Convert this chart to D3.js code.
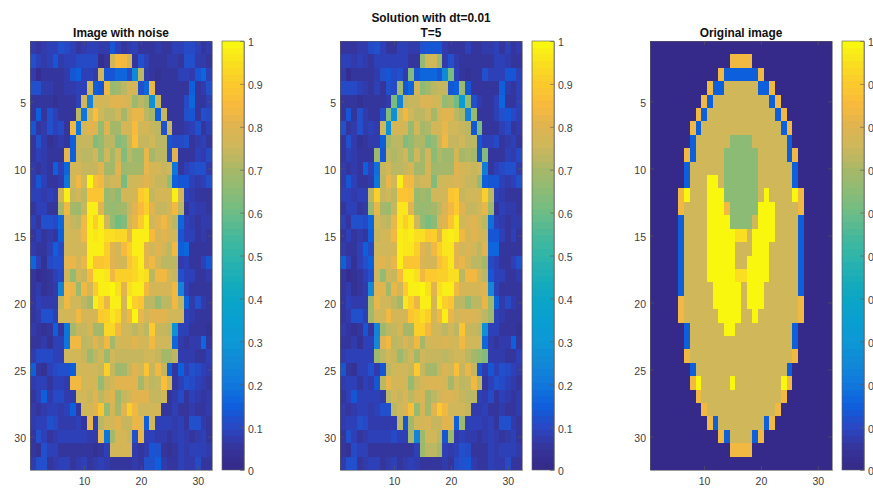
<!DOCTYPE html>
<html>
<head>
<meta charset="utf-8">
<title>Solution with dt=0.01</title>
<style>
body { margin: 0; background: #fff; }
text { font-family: "Liberation Sans", Arial, sans-serif; }
.tick text { font-size: 10.5px; fill: #404040; }
.tick line, .domain { stroke: #5a5a5a; stroke-width: 0.6px; }
.title { font-size: 11.9px; font-weight: bold; fill: #111; text-anchor: middle; }
</style>
<script src="https://cdnjs.cloudflare.com/ajax/libs/d3/7.8.5/d3.min.js"></script>
</head>
<body>
<svg id="chart" width="873" height="491">
  <defs><filter id="soft"><feGaussianBlur stdDeviation="0.45"></feGaussianBlur></filter></defs>
</svg>
<script>
// values are in hundredths
var noisy = [
[7,6,7,8,8,11,10,8,6,7,9,8,7,7,14,8,6,7,8,6,5,5,7,6,5,8,8,10,10,9,6,7],
[12,8,7,8,13,7,8,9,10,10,10,10,3,5,78,85,84,78,5,11,9,5,6,5,7,7,5,12,12,7,7,6],
[7,3,6,6,6,5,7,13,15,9,8,7,75,13,13,17,17,10,25,72,7,6,4,5,6,6,8,9,7,14,17,8],
[11,11,7,7,6,5,7,7,8,9,76,15,13,83,66,70,72,78,78,12,17,82,6,5,5,5,6,5,15,6,7,12],
[5,6,6,5,4,6,6,6,8,75,22,75,77,76,80,80,79,78,68,73,70,27,74,5,6,5,6,10,17,5,6,8],
[6,15,5,12,8,5,5,5,72,20,75,86,76,72,72,76,70,78,82,82,73,70,15,74,5,6,6,11,13,6,12,10],
[14,6,7,12,8,10,6,84,20,78,80,80,66,80,70,70,78,75,85,75,77,74,73,12,74,5,5,7,9,12,6,8],
[5,12,7,4,5,7,6,15,74,74,74,64,66,72,72,64,66,74,87,74,74,76,72,72,14,10,10,12,6,7,8,5],
[5,9,7,6,5,6,82,15,74,72,73,76,66,76,70,76,64,72,68,68,82,70,72,72,12,80,5,6,5,9,7,10],
[7,6,7,6,15,8,17,78,78,74,74,74,80,70,70,80,68,70,70,70,82,78,78,74,78,20,5,8,10,12,12,7],
[7,13,8,5,6,7,19,76,84,76,100,86,84,74,75,78,62,76,76,78,80,78,74,74,66,15,14,14,9,7,9,12],
[9,9,7,8,7,78,98,74,76,72,88,88,88,66,70,65,78,76,77,90,93,74,78,78,78,98,78,8,7,6,6,5],
[5,8,8,6,6,70,84,70,68,74,97,97,80,68,66,68,70,74,80,85,92,80,74,74,78,84,72,6,8,7,7,6],
[9,6,11,12,10,17,78,74,72,84,97,92,98,76,66,60,64,78,82,90,98,76,80,83,77,72,17,8,7,5,7,7],
[5,8,6,7,5,15,76,76,78,84,98,96,98,95,95,93,93,82,97,98,98,85,78,80,78,76,14,9,8,6,7,5],
[7,6,5,8,15,10,78,76,76,78,98,97,97,92,80,76,85,92,97,97,80,76,80,76,72,83,15,17,6,5,6,6],
[17,9,4,10,12,12,82,82,78,82,98,89,89,90,80,78,78,88,93,97,80,83,75,73,72,72,7,8,5,5,9,13],
[6,3,4,6,8,10,78,66,76,74,85,98,98,96,84,91,91,92,93,96,95,72,84,84,75,74,12,8,9,5,6,7],
[6,7,4,5,7,22,84,82,68,83,76,90,98,98,100,95,80,95,98,98,84,78,78,78,78,83,22,8,6,5,6,6],
[6,8,7,7,7,73,84,76,76,72,70,97,93,82,98,98,78,100,92,88,72,72,66,73,72,84,73,15,7,11,7,5],
[6,7,12,12,8,76,78,76,84,78,78,78,90,92,96,93,78,83,100,82,76,80,80,80,75,75,76,8,7,6,6,6],
[7,5,4,6,15,5,20,70,74,74,78,70,70,93,93,83,76,76,72,76,72,90,74,74,72,27,8,8,6,6,5,4],
[6,6,7,4,8,8,20,84,84,72,74,80,74,84,70,76,78,78,80,78,76,84,76,76,75,16,7,6,7,7,17,6],
[7,10,10,10,8,8,76,76,78,74,68,72,76,68,76,74,74,74,74,74,76,76,74,70,70,72,7,7,7,5,5,8],
[15,6,4,8,10,12,12,15,76,78,76,76,74,92,74,68,70,74,80,76,88,74,84,74,15,6,15,8,11,10,8,7],
[7,8,8,5,8,8,7,84,84,76,78,78,66,74,78,80,80,80,80,70,76,72,74,87,76,6,8,12,10,9,7,6],
[6,8,15,7,10,10,7,7,76,78,74,80,72,78,80,68,74,76,80,80,80,74,74,76,6,7,10,6,8,7,5,7],
[7,6,7,8,8,7,9,15,6,76,78,80,88,66,78,70,80,92,84,76,76,76,78,6,6,8,6,6,7,6,5,7],
[7,8,8,12,10,7,7,7,8,6,82,8,73,76,78,80,74,74,82,82,15,76,9,8,9,7,8,6,12,12,7,6],
[5,12,8,6,7,8,8,8,8,8,7,7,82,20,70,78,78,74,12,82,8,8,7,7,6,7,8,7,5,7,9,6],
[5,4,11,8,8,5,5,6,6,6,5,4,6,8,76,78,78,78,7,6,7,13,11,5,4,6,9,7,8,8,8,7],
[7,11,11,5,7,8,8,6,7,9,6,7,8,7,6,6,5,5,7,6,11,12,15,7,5,6,9,7,7,10,5,5]
];

var solution = [
[6,5,6,7,7,10,11,8,6,6,8,8,7,7,12,13,13,13,7,6,5,6,8,5,5,7,7,9,6,9,6,7],
[9,8,7,8,7,6,8,8,9,9,9,9,6,5,66,76,75,68,7,12,7,6,6,6,6,6,6,8,8,7,6,6],
[7,3,6,6,6,6,7,11,13,10,12,7,64,13,16,17,17,13,25,62,8,6,4,5,6,12,9,9,9,14,13,8],
[10,10,10,8,7,6,8,6,11,10,68,14,16,78,65,70,72,74,74,14,15,68,14,6,6,5,6,6,15,7,6,9],
[5,6,6,4,5,6,6,6,7,62,22,72,74,74,79,79,77,76,66,70,60,32,66,12,7,6,6,9,17,5,6,8],
[6,14,5,11,7,5,5,12,64,28,76,84,75,72,72,76,70,77,81,81,73,70,22,66,5,5,6,9,12,14,10,9],
[12,6,7,11,7,9,7,75,28,77,78,78,67,78,70,71,77,75,82,75,76,74,73,13,62,6,5,6,9,10,6,7],
[5,11,7,4,5,7,7,15,70,72,72,64,66,71,71,64,66,74,84,74,74,76,72,72,13,9,9,10,6,7,8,5],
[5,9,7,6,5,6,68,14,72,71,72,75,67,75,70,75,65,71,68,68,78,70,71,70,13,64,6,6,5,9,7,10],
[7,6,7,6,15,8,18,74,76,73,73,74,78,70,70,78,68,70,70,70,80,77,76,74,76,21,6,8,10,12,12,7],
[7,13,8,5,6,7,20,73,82,76,98,85,83,74,75,77,64,76,75,77,79,77,74,74,67,15,13,13,9,7,9,11],
[8,9,7,8,8,72,92,74,75,72,88,88,87,67,70,66,76,75,76,88,90,74,76,76,77,92,72,8,7,6,6,5],
[5,8,8,6,7,66,82,70,68,74,96,96,80,68,67,68,70,73,79,84,90,80,74,74,76,82,68,6,8,7,7,6],
[9,6,11,12,10,17,76,74,72,82,96,92,96,76,66,62,65,77,80,88,96,76,79,81,76,73,18,8,7,5,7,7],
[5,8,6,7,5,15,74,76,77,83,97,96,97,95,95,90,92,81,96,97,96,84,78,80,78,76,14,14,8,6,8,5],
[7,6,5,8,15,10,76,76,76,78,97,96,96,91,80,76,84,91,96,96,80,76,79,76,73,80,16,16,6,5,6,6],
[15,9,4,9,12,15,79,80,78,82,97,88,88,89,79,78,78,87,92,96,80,82,75,73,72,70,10,8,5,5,9,12],
[6,3,4,6,8,12,76,67,75,74,85,97,97,95,83,90,90,91,92,95,94,72,83,83,75,73,14,8,9,5,6,7],
[6,7,4,5,7,24,81,81,69,82,76,90,97,97,99,94,80,94,97,97,83,77,77,77,77,80,24,8,6,5,6,6],
[6,8,7,7,7,68,82,75,75,72,70,96,92,82,97,97,78,98,91,88,73,72,67,73,72,82,68,15,7,10,7,5],
[6,7,11,11,8,70,76,75,83,78,78,78,89,91,95,92,78,83,98,82,76,79,79,79,75,72,68,8,7,6,6,6],
[7,5,4,6,13,5,22,68,73,74,77,70,70,92,92,83,76,76,72,76,72,88,74,74,72,28,8,8,6,6,5,4],
[6,6,7,4,8,8,24,80,83,72,74,79,74,83,70,76,77,77,79,77,76,83,76,76,75,16,7,6,7,7,15,6],
[7,9,9,9,8,8,68,72,76,74,68,72,76,69,75,74,74,74,73,74,75,75,73,69,66,64,7,7,7,6,6,8],
[13,6,4,8,9,12,7,14,72,76,76,76,74,90,74,69,70,74,79,76,87,74,82,74,14,7,14,8,11,10,8,7],
[7,8,8,5,8,7,13,72,82,76,77,77,67,74,78,79,79,79,78,70,76,72,74,84,72,6,8,11,10,9,7,6],
[6,8,13,8,9,9,8,7,72,76,74,79,72,77,79,69,73,75,79,79,78,74,73,72,8,7,10,6,8,7,5,7],
[7,6,7,8,8,7,9,12,12,72,76,79,87,67,77,70,80,90,84,75,75,75,74,7,7,8,6,6,7,6,5,7],
[7,8,8,11,10,7,7,7,7,7,72,14,70,75,77,79,74,74,80,80,15,68,8,8,9,7,8,6,11,11,7,6],
[5,11,8,6,7,8,8,8,8,10,9,8,70,22,68,76,76,72,14,68,7,8,7,7,6,7,8,7,5,7,8,6],
[5,4,10,8,8,5,5,6,6,6,6,5,6,8,68,72,72,70,8,7,8,12,10,5,5,6,9,7,8,8,8,7],
[7,11,11,5,7,8,8,6,7,9,6,7,8,7,6,6,5,5,7,6,10,12,14,7,5,6,9,7,7,10,5,5]
];

// original image has only a few grey levels, one letter per cell
var originalLevels = { ".": 0, B: 15, G: 65, T: 76, O: 83, D: 95, Y: 100 };
var originalRows = [
"................................",
"..............OOOO..............",
"............OBBBBBBO............",
"..........OBBTTTTTTBBO..........",
".........OBTTTTTTTTTTBO.........",
"........OBTTTTTTTTTTTTBO........",
".......OBTTTTTTTTTTTTTTBO.......",
".......BTTTTTTGGGGTTTTTTB.......",
"......OBTTTTTGGGGGGTTTTTBO......",
"......BTTTTTTGGGGGGTTTTTTB......",
"......BTTTYYTGGGGGGTTTTTTB......",
".....OYTTTYYYGGGGGGTYTTTTYO.....",
".....OTTTTYYYOGGGGGYYYTTTTO.....",
".....BTTTTYYYYGGGGTYYYTTTTB.....",
".....BTTTTYYYYYDDTYYYYTTTTB.....",
".....BTTTTYYYYYTTTYYYTTTTTB.....",
".....BTTTTYYYYYTTYYYYTTTTTB.....",
".....BTTTTYYYYYDDYYYYTTTTTB.....",
".....BTTTTTYYYYYTYYYTTTTTTB.....",
".....OTTTTTYYYYYTYYYTTTTTTO.....",
".....OTTTTTTYYYYTTYTTTTTTTO.....",
"......BTTTTTTYYTTTTTTTTTTB......",
"......BTTTTTTTTTTTTTTTTTTB......",
"......OTTTTTTTTTTTTTTTTTTO......",
".......BTTTTTTTTTTTTTTTTB.......",
".......OYTTTTTYTTTTTTTTYO.......",
"........OTTTTTTTTTTTTTTO........",
".........OTTTTTTTTTTTTO.........",
"..........OBTTTTTTTTBO..........",
"............OBTTTTBO............",
"..............OOOO..............",
"................................"
];
var original = originalRows.map(function(r) {
  return r.split("").map(function(c) { return originalLevels[c]; });
});

var xTicks = [10, 20, 30];
var yTicks = [5, 10, 15, 20, 25, 30];
var barTicks = [0, 0.1, 0.2, 0.3, 0.4, 0.5, 0.6, 0.7, 0.8, 0.9, 1];

// colormap stops
var cmapStops = [0, 0.05, 0.1, 0.15, 0.2, 0.25, 0.3, 0.35, 0.4, 0.45, 0.5, 0.55, 0.6, 0.65, 0.7, 0.75, 0.8, 0.85, 0.9, 0.95, 1];
var cmapColors = ["#352a87", "#36339a", "#2947c4", "#0f5fdc", "#1178dc", "#1289d6", "#0c98d6", "#099fd0", "#0ba5c6", "#1badb8", "#30b5a8", "#4ab999", "#6ebc85", "#8dbb75", "#a8b868", "#ccb75c", "#dfb452", "#f8b93c", "#fcc92d", "#f9e01f", "#f9fb0e"];
var cmap = d3.scaleLinear().domain(cmapStops).range(cmapColors);
function stepColor(v) {
  var i = Math.min(63, Math.floor(v * 64));
  return cmap((i + 0.5) / 64);
}

var panels = [
  { left: 30, data: noisy, title: ["Image with noise"] },
  { left: 340, data: solution, title: ["Solution with dt=0.01", "T=5"] },
  { left: 650, data: original, title: ["Original image"] }
];
var plotTop = 41, plotBottom = 470, plotW = 182, barGap = 10, barW = 22;

var svg = d3.select("#chart");

panels.forEach(function(p) {
  var x = d3.scaleLinear().domain([0.5, 32.5]).range([p.left, p.left + plotW]);
  var y = d3.scaleLinear().domain([0.5, 32.5]).range([plotTop, plotBottom]);
  var g = svg.append("g");
  var cells = g.append("g").attr("filter", "url(#soft)");

  p.data.forEach(function(row, r) {
    cells.append("g").selectAll("rect")
      .data(row)
      .enter().append("rect")
      .attr("shape-rendering", "crispEdges")
      .attr("x", function(d, c) { return x(c + 0.5); })
      .attr("width", function(d, c) { return x(c + 1.5) - x(c + 0.5); })
      .attr("y", y(r + 0.5))
      .attr("height", y(r + 1.5) - y(r + 0.5))
      .attr("fill", function(d) { return stepColor(d / 100); });
  });

  // MATLAB box: ticks point inward on all four sides
  g.append("g").attr("transform", "translate(0," + plotBottom + ")")
    .call(d3.axisBottom(x).tickValues(xTicks).tickSize(-4).tickPadding(8).tickSizeOuter(0));
  g.append("g").attr("transform", "translate(0," + plotTop + ")")
    .call(d3.axisTop(x).tickValues(xTicks).tickSize(-4).tickFormat("").tickSizeOuter(0));
  g.append("g").attr("transform", "translate(" + p.left + ",0)")
    .call(d3.axisLeft(y).tickValues(yTicks).tickSize(-4).tickPadding(4).tickSizeOuter(0))
    .selectAll("text").attr("dy", "0.45em");
  g.append("g").attr("transform", "translate(" + (p.left + plotW) + ",0)")
    .call(d3.axisRight(y).tickValues(yTicks).tickSize(-4).tickFormat("").tickSizeOuter(0));

  var tx = p.left + plotW / 2;
  var lines = p.title;
  g.selectAll(".title").data(lines).enter().append("text")
    .attr("class", "title")
    .attr("x", tx)
    .attr("y", function(d, i) { return 37 - (lines.length - 1 - i) * 15.5; })
    .text(function(d) { return d; });

  // colorbar, 64 steps like the image
  var barX = p.left + plotW + barGap;
  var barY = d3.scaleLinear().domain([0, 1]).range([plotBottom, plotTop]);
  g.append("g").selectAll("rect")
    .data(d3.range(64))
    .enter().append("rect")
    .attr("shape-rendering", "crispEdges")
    .attr("x", barX)
    .attr("width", barW)
    .attr("y", function(d) { return barY((d + 1) / 64); })
    .attr("height", function(d) { return barY(d / 64) - barY((d + 1) / 64); })
    .attr("fill", function(d) { return cmap((d + 0.5) / 64); });
  g.append("g").attr("transform", "translate(" + (barX + barW) + ",0)")
    .call(d3.axisRight(barY).tickValues(barTicks).tickSize(-4).tickPadding(4).tickSizeOuter(0)
      .tickFormat(function(d) { return String(d); }))
    .selectAll("text").attr("dy", "0.47em");
  g.append("rect")
    .attr("x", barX).attr("y", plotTop)
    .attr("width", barW).attr("height", plotBottom - plotTop)
    .attr("fill", "none").attr("stroke", "#5a5a5a").attr("stroke-width", 0.6);
});
</script>
</body>
</html>
